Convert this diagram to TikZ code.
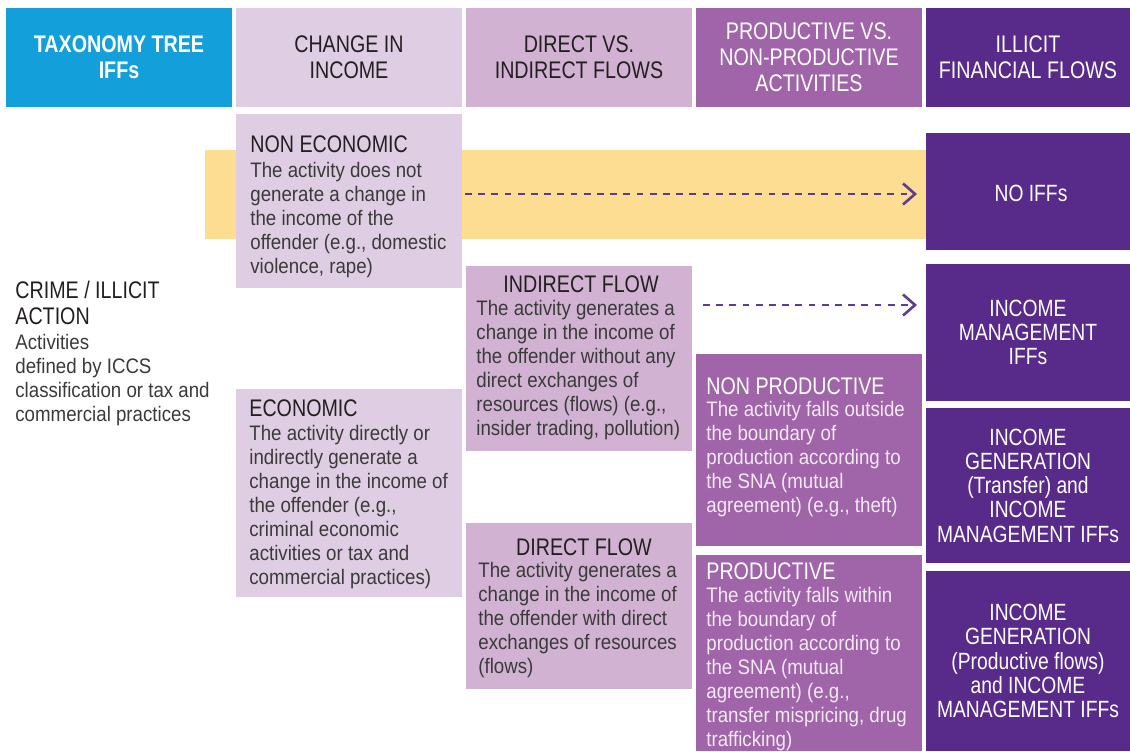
\documentclass[tikz,border=0pt]{standalone}
\usepackage{fontspec}
\setmainfont[FakeStretch=0.89]{Liberation Sans}
\newfontfamily\headfont[FakeStretch=0.82]{Liberation Sans}
\usetikzlibrary{arrows.meta,calc,fit}

\definecolor{taxblue}{HTML}{139FDA}
\definecolor{lilacA}{HTML}{DFCEE3}
\definecolor{lilacB}{HTML}{D2B2D3}
\definecolor{purpleC}{HTML}{A064A9}
\definecolor{purpleD}{HTML}{582A89}
\definecolor{bandyellow}{HTML}{FDDD92}
\definecolor{arrowpurple}{HTML}{5B3B97}
\definecolor{inkdark}{HTML}{231F20}
\definecolor{inkgrey}{HTML}{3A3A3A}
\definecolor{inklight}{HTML}{F3EAF4}

\tikzset{
  cell/.style={inner sep=0, outer sep=0, draw=none},
  colhead/.style={align=center, inner sep=0, font=\headfont\fontsize{12}{13}\selectfont},
  boxtitle/.style={anchor=base west, inner sep=0, font=\headfont\fontsize{12}{13}\selectfont},
  boxbody/.style={anchor=north west, align=left, inner sep=0, font=\fontsize{10.5}{12}\selectfont},
  iffs/.style={align=center, text=white, inner sep=0, font=\headfont\fontsize{11.75}{12.15}\selectfont},
  flow/.style={arrowpurple, line width=1.3pt, dash pattern=on 3.4pt off 3.2pt,
    -{Straight Barb[length=6pt,width=10.5pt]}}
}

\begin{document}
\begin{tikzpicture}[x=0.5pt, y=-0.5pt]
  \useasboundingbox (0,0) rectangle (1130,751);

  % header row
  \foreach \nm/\xa/\xb/\col in {hTax/6/232/taxblue, hChange/236/462/lilacA,
      hDirect/466/692/lilacB, hProd/696/922/purpleC, hIFF/926/1130/purpleD}
    \node[cell, fill=\col, fit={(\xa,8) (\xb,107)}] (\nm) {};

  \node[colhead, text=white, font=\headfont\bfseries\fontsize{12}{13}\selectfont] (tTax) at (hTax) {TAXONOMY TREE\\IFFs};
  \node[colhead, text=inkdark] (tChange) at (hChange) {CHANGE IN\\INCOME};
  \node[colhead, text=inkdark] (tDirect) at (hDirect) {DIRECT VS.\\INDIRECT FLOWS};
  \node[colhead, text=white] (tProd) at (hProd) {PRODUCTIVE VS.\\NON-PRODUCTIVE\\ACTIVITIES};
  \node[colhead, text=white] (tIFF) at (hIFF) {ILLICIT\\FINANCIAL FLOWS};

  % yellow band behind the non economic row
  \node[cell, fill=bandyellow, fit={(205,150) (926,239)}] (band) {};

  % activity boxes
  \node[cell, fill=lilacA, fit={(236,114) (462,288)}] (noneco) {};
  \node[cell, fill=lilacA, fit={(236,389) (462,597)}] (eco) {};
  \node[cell, fill=lilacB, fit={(466,266) (692,451)}] (indirect) {};
  \node[cell, fill=lilacB, fit={(466,523) (692,689)}] (direct) {};
  \node[cell, fill=purpleC, fit={(696,354) (922,546)}] (nonprod) {};
  \node[cell, fill=purpleC, fit={(696,555) (922,751)}] (prod) {};

  % outcome boxes
  \foreach \nm/\ya/\yb in {noiff/133/250, mgmt/264/401, transfer/408/563, prodiff/571/751}
    \node[cell, fill=purpleD, fit={(926,\ya) (1130,\yb)}] (\nm) {};

  % crime / illicit action
  \node[boxtitle, anchor=north west, align=left, text=inkdark] (crimeT) at (15,281) {CRIME / ILLICIT\\ACTION};
  \node[boxbody, text=inkgrey] (crimeB) at (15,334) {Activities\\defined by ICCS\\classification or tax and\\commercial practices};

  % change in income
  \node[boxtitle, text=inkdark] (nonecoT) at (250,152) {NON ECONOMIC};
  \node[boxbody, text=inkgrey] (nonecoB) at (250,161.5) {The activity does not\\generate a change in\\the income of the\\offender (e.g., domestic\\violence, rape)};
  \node[boxtitle, text=inkdark] (ecoT) at (249,416) {ECONOMIC};
  \node[boxbody, text=inkgrey] (ecoB) at (249,425) {The activity directly or\\indirectly generate a\\change in the income of\\the offender (e.g.,\\criminal economic\\activities or tax and\\commercial practices)};

  % direct vs. indirect
  \node[boxtitle, anchor=base, text=inkdark] (indirectT) at (581,292) {INDIRECT FLOW};
  \node[boxbody, text=inkgrey] (indirectB) at (476,300) {The activity generates a\\change in the income of\\the offender without any\\direct exchanges of\\resources (flows) (e.g.,\\insider trading, pollution)};
  \node[boxtitle, anchor=base, text=inkdark] (directT) at (584,555) {DIRECT FLOW};
  \node[boxbody, text=inkgrey] (directB) at (478,561.5) {The activity generates a\\change in the income of\\the offender with direct\\exchanges of resources\\(flows)};

  % productive vs. non-productive
  \node[boxtitle, text=white] (nonprodT) at (706,394) {NON PRODUCTIVE};
  \node[boxbody, text=inklight] (nonprodB) at (706,401) {The activity falls outside\\the boundary of\\production according to\\the SNA (mutual\\agreement) (e.g., theft)};
  \node[boxtitle, text=white] (prodT) at (706,579) {PRODUCTIVE};
  \node[boxbody, text=inklight] (prodB) at (706,586.5) {The activity falls within\\the boundary of\\production according to\\the SNA (mutual\\agreement) (e.g.,\\transfer mispricing, drug\\trafficking)};

  % illicit financial flows
  \node[iffs] (noiffT) at ($(noiff)+(3,2)$) {NO IFFs};
  \node[iffs] (mgmtT) at (mgmt) {INCOME\\MANAGEMENT\\IFFs};
  \node[iffs] (transferT) at (transfer) {INCOME\\GENERATION\\(Transfer) and\\INCOME\\MANAGEMENT IFFs};
  \node[iffs] (prodiffT) at (prodiff) {INCOME\\GENERATION\\(Productive flows)\\and INCOME\\MANAGEMENT IFFs};

  % dashed arrows
  \coordinate (r1) at (0,194);
  \coordinate (r2) at (0,305);
  \draw[flow] ($(noneco.east |- r1)+(3,0)$) -- ($(noiff.west |- r1)+(-9,0)$);
  \draw[flow] ($(indirect.east |- r2)+(11,0)$) -- ($(mgmt.west |- r2)+(-9,0)$);
\end{tikzpicture}
\end{document}
